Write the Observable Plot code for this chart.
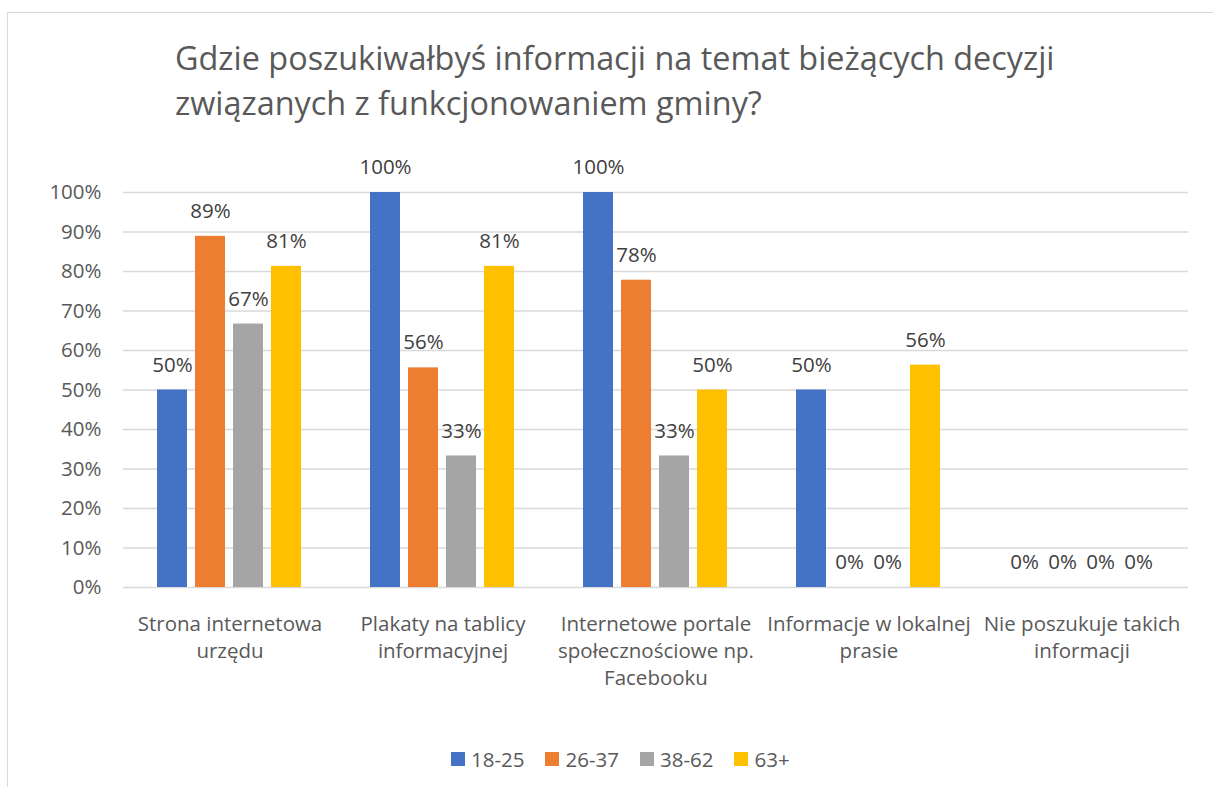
<!DOCTYPE html>
<html>
<head>
<meta charset="utf-8">
<script src="https://cdn.jsdelivr.net/npm/d3@7"></script>
<script src="https://cdn.jsdelivr.net/npm/@observablehq/plot@0.6"></script>
<style>
  body { margin: 0; background: #fff; font-family: "Open Sans", sans-serif; }
  #wrap { position: relative; width: 1213px; height: 787px; overflow: hidden; background: #fff; }
  #border { position: absolute; left: 7px; top: 12px; width: 1400px; height: 1000px;
            border-left: 1.5px solid #d9d9d9; border-top: 1.5px solid #d9d9d9; }
  #title { position: absolute; left: 175px; top: 35px; font-size: 32.4px; line-height: 45px;
           color: #595959; white-space: nowrap; }
  #chart { position: absolute; left: 0; top: 150px; }
  #legend { position: absolute; left: 451px; top: 749px; height: 20px; display: flex;
            align-items: center; font-size: 20.5px; line-height: 20px; color: #595959; }
  .item { display: flex; align-items: center; margin-right: 21px; }
  .sw { width: 14px; height: 14px; margin-right: 6px; }
</style>
</head>
<body>
<div id="wrap">
  <div id="border"></div>
  <div id="title"></div>
  <div id="chart"></div>
  <div id="legend"></div>
</div>
<script>
const titleLines = [
  "Gdzie poszukiwałbyś informacji na temat bieżących decyzji",
  "związanych z funkcjonowaniem gminy?"
];
const categories = [
  "Strona internetowa urzędu",
  "Plakaty na tablicy informacyjnej",
  "Internetowe portale społecznościowe np. Facebooku",
  "Informacje w lokalnej prasie",
  "Nie poszukuje takich informacji"
];
const categoryLabels = [
  "Strona internetowa\nurzędu",
  "Plakaty na tablicy\ninformacyjnej",
  "Internetowe portale\nspołecznościowe np.\nFacebooku",
  "Informacje w lokalnej\nprasie",
  "Nie poszukuje takich\ninformacji"
];
const series = ["18-25", "26-37", "38-62", "63+"];
const values1825 = [50, 100, 100, 50, 0];
const values2637 = [88.9, 55.6, 77.8, 0, 0];
const values3862 = [66.7, 33.3, 33.3, 0, 0];
const values63 = [81.3, 81.3, 50, 56.3, 0];
const colors = ["#4472C4", "#ED7D31", "#A5A5A5", "#FFC000"];
const yTicks = [0, 10, 20, 30, 40, 50, 60, 70, 80, 90, 100];

document.getElementById("title").innerHTML = titleLines.join("<br>");

const seriesValues = [values1825, values2637, values3862, values63];
const data = [];
categories.forEach((c, i) => {
  series.forEach((s, j) => data.push({category: c, series: s, value: seriesValues[j][i]}));
});
const labelOf = new Map(categories.map((c, i) => [c, categoryLabels[i]]));

const chart = Plot.plot({
  width: 1213,
  height: 560,
  marginLeft: 122,
  marginRight: 25,
  marginTop: 42,
  marginBottom: 123,
  style: {fontFamily: "Open Sans", fontSize: "20.5px", color: "#595959", background: "transparent"},
  fx: {domain: categories, padding: 0, label: null},
  x: {domain: series, paddingInner: 0.2, paddingOuter: 0.88, axis: null},
  y: {domain: [0, 100], axis: null},
  color: {domain: series, range: colors},
  marks: [
    Plot.ruleY(yTicks, {y: d => d, stroke: "#d9d9d9", strokeWidth: 1.5}),
    Plot.barY(data, {fx: "category", x: "series", y: "value", fill: "series"}),
    Plot.text(data, {fx: "category", x: "series", y: "value",
      text: d => Math.round(d.value) + "%", dy: -25, fill: "#404040", fontSize: 20.5}),
    Plot.axisY(yTicks, {tickSize: 0, tickPadding: 22, tickFormat: d => d + "%", fill: "#595959", label: null}),
    Plot.axisFx({anchor: "bottom", tickSize: 0, tickPadding: 24, tickFormat: d => labelOf.get(d),
      lineHeight: 1.32, fill: "#595959", label: null})
  ]
});
document.getElementById("chart").appendChild(chart);

const legend = document.getElementById("legend");
series.forEach((s, i) => {
  const item = document.createElement("div");
  item.className = "item";
  item.innerHTML = `<div class="sw" style="background:${colors[i]}"></div><span>${s}</span>`;
  legend.appendChild(item);
});
</script>
</body>
</html>
